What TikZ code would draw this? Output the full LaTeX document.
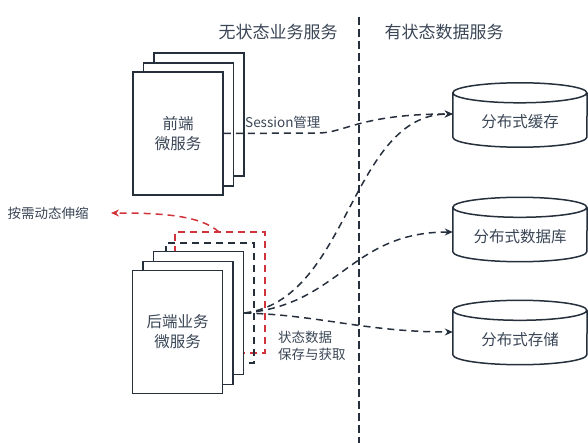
\documentclass[tikz,border=0pt]{standalone}
\usepackage{fontspec}
\setmainfont{Noto Sans CJK SC}
\usetikzlibrary{arrows.meta,calc}
\definecolor{ink}{HTML}{26303D}
\definecolor{txt}{HTML}{3A4656}
\definecolor{redd}{HTML}{D0343A}
\newcommand\drawcyl[1]{%
  \draw[draw=ink,line width=1.5pt,fill=white]
    (#1.north west) arc[start angle=180,end angle=540,x radius=67pt,y radius=10pt]
    -- ([yshift=10pt]#1.south west) arc[start angle=180,end angle=360,x radius=67pt,y radius=10pt]
    -- (#1.north east);}
\begin{document}
\begin{tikzpicture}[x=1pt,y=1pt,
  card/.style={draw=ink,line width=1.6pt,fill=white,minimum width=90pt,minimum height=123pt,inner sep=0pt,
    align=center,text=txt,font=\fontsize{15.5}{20}\selectfont},
  cylbox/.style={minimum width=134pt,minimum height=54pt,inner sep=0pt,text=txt,font=\fontsize{15.5}{18}\selectfont},
  conn/.style={draw=ink,line width=1.5pt,dash pattern=on 7pt off 5pt,-{Stealth[length=8pt,width=7pt]}},
  frame/.style={line width=1.5pt,dash pattern=on 7pt off 5pt},
  title/.style={text=txt,font=\fontsize{17}{20}\selectfont},
  lab/.style={text=txt,font=\fontsize{13.5}{17}\selectfont,align=left,inner sep=0pt}]
\useasboundingbox (0,0) rectangle (588,-443);

% titles
\node[title] (t1) at (278,-32) {无状态业务服务};
\node[title] (t2) at (444,-32) {有状态数据服务};

% divider
\coordinate (dtop) at (359,-17);
\coordinate (dbot) at (359,-443);
\draw[draw=ink,line width=1.6pt,dash pattern=on 8pt off 4pt] (dtop) -- (dbot);

% cylinders
\node[cylbox] (c1) at (520,-120) {};
\node[cylbox] (c2) at (520,-234.5) {};
\node[cylbox] (c3) at (520,-337.5) {};
\drawcyl{c1}\drawcyl{c2}\drawcyl{c3}
\node[cylbox] at ([yshift=-2pt]c1.center) {分布式缓存};
\node[cylbox] at ([yshift=-2pt]c2.center) {分布式数据库};
\node[cylbox] at ([yshift=-2pt]c3.center) {分布式存储};

% front-end stack
\node[card] (fe3) at (199,-114.5) {};
\node[card] (fe2) at (188.5,-124.5) {};
\node[card] (fe1) at (178,-133.5) {前端\\微服务};

% backend scaling frames (behind)
\draw[redd,frame] (175,-253) -- (175,-232) -- (265,-232) -- (265,-353) -- (243,-353);
\draw[ink,frame] (166,-253) -- (166,-243) -- (254,-243) -- (254,-363) -- (243,-363);

% back-end stack
\node[card] (be3) at (198.5,-313) {};
\node[card] (be2) at (188,-323) {};
\node[card] (be1) at (177.5,-332) {后端业务\\微服务};

% scaling arrow
\coordinate (rs) at (219,-232);
\coordinate (re) at (111,-213);
\draw[redd,line width=1.5pt,dash pattern=on 7pt off 5pt,-{Stealth[length=8pt,width=7pt]}]
  (rs) .. controls (200,-215) and (160,-213) .. (re);
\node[lab,text=txt] (scale) at (48,-213) {按需动态伸缩};

% session
\draw[conn] (fe1.east) -- (318,-133) .. controls (345,-133) and (360,-114) .. ([yshift=6pt]c1.west);
\node[lab,anchor=west] (sess) at (245,-122) {Session管理};

% backend data connectors
\draw[conn] (be3.east) .. controls (350,-300) and (350,-114) .. ([yshift=6pt]c1.west);
\draw[conn] (be3.east) .. controls (340,-305) and (350,-232) .. ([yshift=2.5pt]c2.west);
\draw[conn] (be3.east) .. controls (320,-315) and (365,-332) .. ([yshift=5.5pt]c3.west);
\node[lab,anchor=west] (data) at (278,-345.5) {状态数据\\保存与获取};
\end{tikzpicture}
\end{document}
